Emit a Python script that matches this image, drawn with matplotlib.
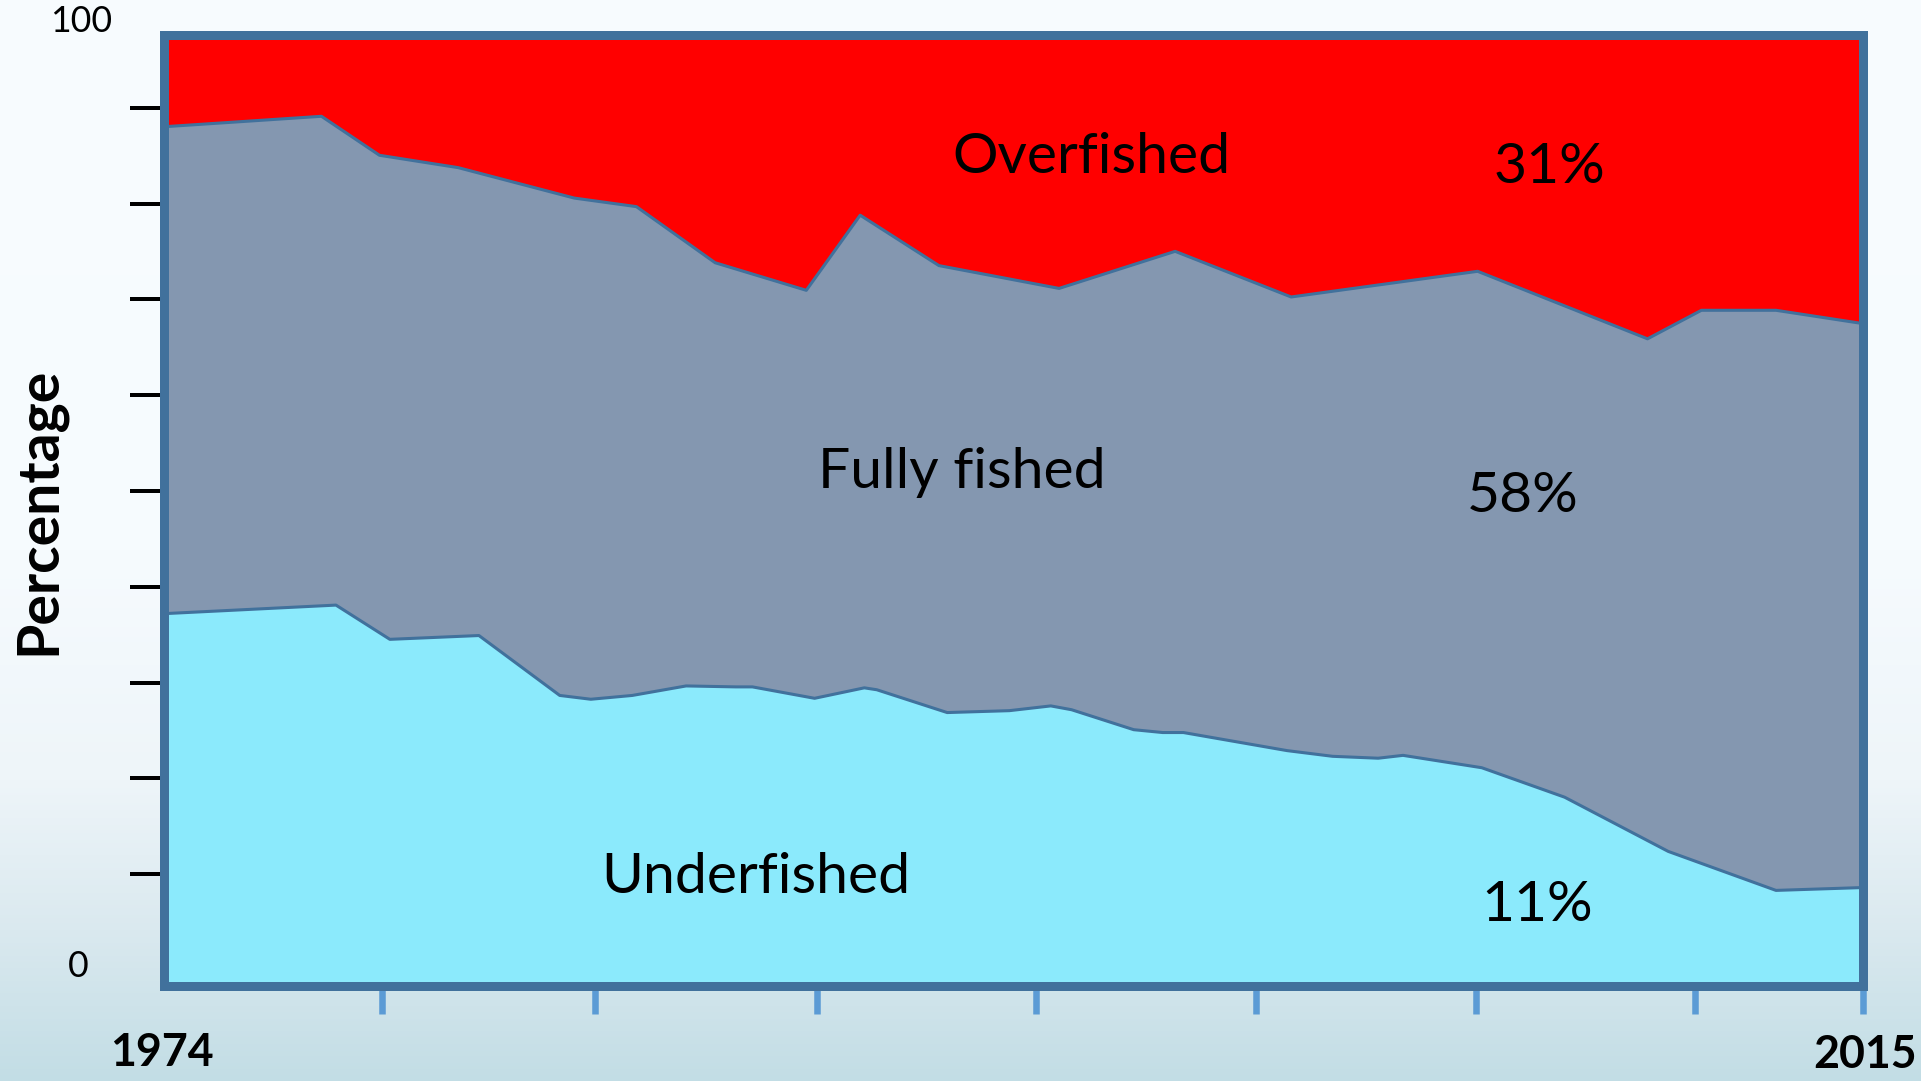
import numpy as np
import matplotlib
matplotlib.use("Agg")
import matplotlib.pyplot as plt

# ---------------- data ----------------
# boundary between "Fully fished" and "Overfished" -> overfished share
over_years = [1974.0, 1977.8, 1979.2, 1981.1, 1983.9, 1985.4, 1987.3, 1989.5,
              1990.8, 1992.7, 1995.6, 1998.4, 2001.2, 2005.7, 2009.8, 2011.1,
              2012.9, 2015.0]
overfished = [9.7, 8.6, 12.7, 14.0, 17.2, 18.1, 24.0, 26.9,
              19.0, 24.3, 26.7, 22.8, 27.6, 24.9, 32.0, 29.0,
              29.0, 30.4]

# underfished share
under_years = [1974.0, 1978.15, 1979.45, 1981.6, 1983.55, 1984.3, 1985.3, 1986.6,
               1987.8, 1988.2, 1989.7, 1990.9, 1991.2, 1992.9, 1994.4, 1995.4,
               1995.9, 1997.4, 1998.1, 1998.6, 2001.1, 2002.2, 2003.3, 2003.9,
               2005.8, 2007.8, 2010.3, 2012.9, 2015.0]
underfished = [39.1, 40.0, 36.4, 36.8, 30.5, 30.1, 30.5, 31.5,
               31.4, 31.4, 30.2, 31.3, 31.1, 28.7, 28.9, 29.4,
               29.0, 26.9, 26.6, 26.6, 24.7, 24.1, 23.9, 24.2,
               22.9, 19.8, 14.1, 10.0, 10.3]

xtick_years = [1979.25, 1984.4, 1989.75, 1995.05, 2000.35, 2005.65, 2010.95, 2015.0]
ytick_vals = [10, 20, 30, 40, 50, 60, 70, 80, 90]

category_labels = ["Overfished", "Fully fished", "Underfished"]
share_labels = ["31%", "58%", "11%"]
year_labels = ["1974", "2015"]
ylabel_text = "Percentage"

# ---------------- style ----------------
RED = "#FF0000"
GRAY = "#8497B0"
CYAN = "#8BEAFC"
FRAME = "#41719C"
XTICK = "#5B9BD5"
FONT = ["Lato", "DejaVu Sans"]

W, H = 1921, 1081
fig = plt.figure(figsize=(W / 100, H / 100), dpi=100)


def fx(x):
    return x / W


def fy(y):
    return 1 - y / H


# background gradient (slide)
bg = fig.add_axes([0, 0, 1, 1], zorder=-5)
bg.axis("off")
stops_y = [0, 550, 780, 930, 1081]
stops_c = [(248, 252, 255), (246, 251, 254), (238, 245, 249), (218, 233, 239), (194, 221, 229)]
yy = np.arange(H)
grad = np.stack([np.interp(yy, stops_y, [c[i] for c in stops_c]) for i in range(3)], axis=-1) / 255
img = np.repeat(grad[:, None, :], 2, axis=1)
bg.imshow(img, aspect="auto", extent=[0, 1, 0, 1], interpolation="bilinear")

# main plot
ax = fig.add_axes([fx(164), fy(985.5), (1863 - 164) / W, (985.5 - 34.5) / H], zorder=2)
ax.set_facecolor("none")
ax.set_xlim(1974, 2015)
ax.set_ylim(0, 100)
upper = [100 - o for o in overfished]
ax.fill_between(over_years, 0, upper, color=GRAY, lw=0, zorder=1)
ax.fill_between(over_years, upper, 100, color=RED, lw=0, zorder=1)
ax.fill_between(under_years, 0, underfished, color=CYAN, lw=0, zorder=1.2)
ax.plot(over_years, upper, color=FRAME, lw=2.2, zorder=2)
ax.plot(under_years, underfished, color=FRAME, lw=2.2, zorder=2)
for s in ax.spines.values():
    s.set_color(FRAME)
    s.set_linewidth(9 * 0.72)
ax.set_yticks([])
ax.set_xticks(xtick_years)
ax.set_xticklabels([])
ax.tick_params(axis="x", direction="out", length=20.5, width=4.7, color=XTICK)

# y tick marks (their own scale as on the slide)
lab = fig.add_axes([fx(164), fy(970), (1863 - 164) / W, 958 / H], zorder=1)
lab.set_facecolor("none")
lab.set_ylim(0, 100)
lab.set_xlim(0, 1)
for s in lab.spines.values():
    s.set_visible(False)
lab.set_xticks([])
lab.set_yticks(ytick_vals)
lab.set_yticklabels([])
lab.tick_params(axis="y", direction="out", length=34 * 0.72, width=4 * 0.72, color="black")

# ---------------- texts ----------------
big = []
big_targets = []
for txt, cx, by, wt in [(category_labels[0], 1091, 173, 279),
                        (share_labels[0], 1549, 183, 106),
                        (category_labels[1], 961.5, 488, 291),
                        (share_labels[1], 1523, 512, 109),
                        (category_labels[2], 756, 893, 317),
                        (share_labels[2], 1537, 921, 107)]:
    t = fig.text(fx(cx), fy(by), txt, ha="center", va="baseline", fontsize=40,
                 family=FONT, color="black", zorder=10)
    big.append(t)
    big_targets.append(wt)

ylab = fig.text(fx(39), fy(511), ylabel_text, rotation=90, ha="center", va="center",
                fontsize=30, fontweight="bold", family=FONT)
t100 = fig.text(fx(81), fy(32), "100", ha="center", va="baseline", fontsize=25, family=FONT)
t0 = fig.text(fx(78.5), fy(977), "0", ha="center", va="baseline", fontsize=25, family=FONT)
years_t = [fig.text(fx(161.5), fy(1066), year_labels[0], ha="center", va="baseline",
                    fontsize=30, fontweight="bold", family=FONT),
           fig.text(fx(1865), fy(1068), year_labels[1], ha="center", va="baseline",
                    fontsize=30, fontweight="bold", family=FONT)]

fig.canvas.draw()
r = fig.canvas.get_renderer()


def fit_group(texts, targets, dim="w"):
    cur = 0
    for t in texts:
        bb = t.get_window_extent(r)
        cur += bb.width if dim == "w" else bb.height
    scale = sum(targets) / cur
    for t in texts:
        t.set_fontsize(t.get_fontsize() * scale)


fit_group(big, big_targets)
fit_group([ylab], [288], dim="h")
fit_group([t100], [62])
t0.set_fontsize(t100.get_fontsize())
fit_group(years_t, [103, 104])

fig.savefig("out.png", dpi=100)
